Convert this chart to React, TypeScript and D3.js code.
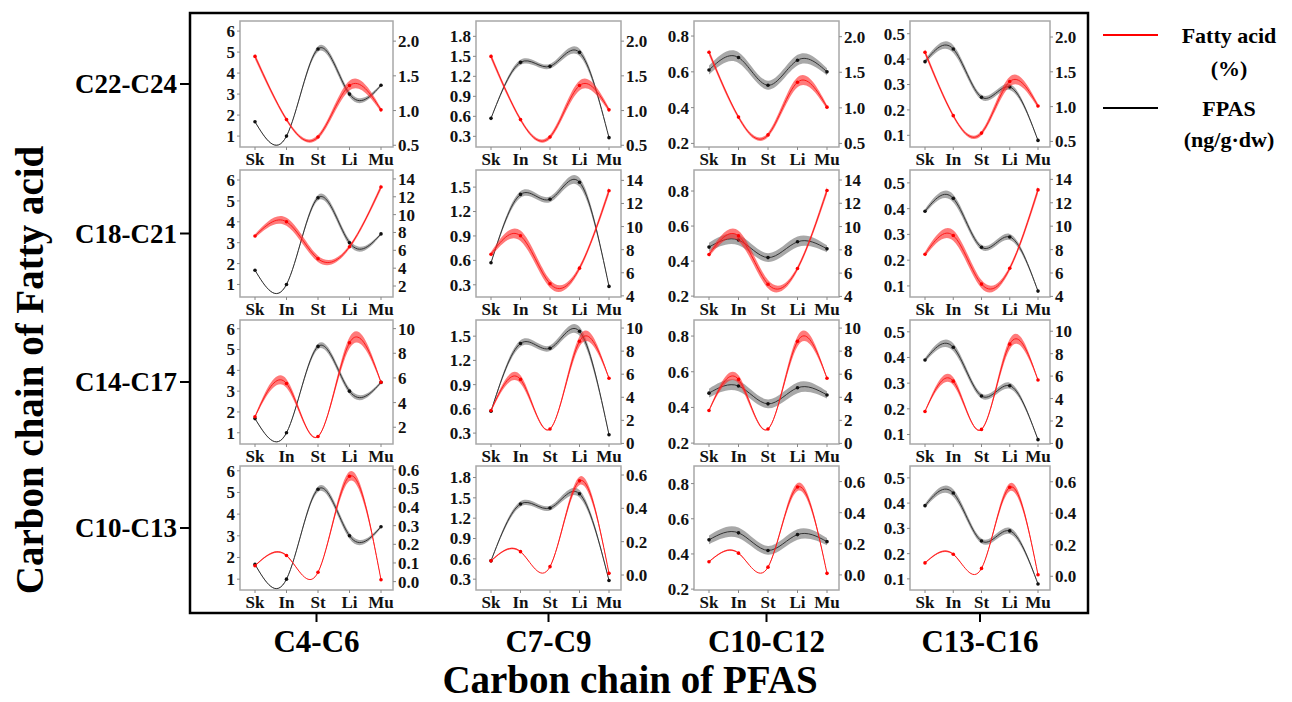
import React from "react";
import * as d3 from "d3";

// ---------- data ----------
const stations = ["Sk", "In", "St", "Li", "Mu"];
const pfasGroups = ["C4-C6", "C7-C9", "C10-C12", "C13-C16"];
const fattyGroups = ["C22-C24", "C18-C21", "C14-C17", "C10-C13"];

// FPAS (ng/g·dw), black, left axis — one series per PFAS column
const fpasC4C6 = [1.68, 1.0, 5.15, 3.0, 3.42];
const fpasC7C9 = [0.57, 1.41, 1.35, 1.56, 0.28];
const fpasC10C12 = [0.48, 0.52, 0.42, 0.51, 0.47];
const fpasC10C12Top = [0.61, 0.68, 0.525, 0.665, 0.6];
const fpasC13C16 = [0.39, 0.44, 0.25, 0.29, 0.08];
// confidence band half-widths (same units)
const fpasBandC4C6 = [0.03, 0.03, 0.13, 0.14, 0.06];
const fpasBandC7C9 = [0.01, 0.04, 0.035, 0.055, 0.01];
const fpasBandC10C12 = [0.025, 0.03, 0.025, 0.03, 0.02];
const fpasBandC13C16 = [0.008, 0.015, 0.01, 0.012, 0.003];

// Fatty acid (%), red, right axis — one series per fatty-acid row
const fattyC22C24 = [1.78, 0.87, 0.62, 1.36, 1.01];
const fattyC18C21 = [7.6, 9.2, 5.05, 6.4, 13.1];
const fattyC14C17 = [2.85, 5.55, 1.25, 8.85, 5.65];
const fattyC10C13 = [0.085, 0.14, 0.05, 0.565, 0.01];
const fattyBandC22C24 = [0.04, 0.025, 0.03, 0.07, 0.03];
const fattyBandC18C21 = [0.2, 0.45, 0.35, 0.2, 0.3];
const fattyBandC14C17 = [0.1, 0.35, 0.05, 0.45, 0.1];
const fattyBandC10C13 = [0.003, 0.004, 0.002, 0.025, 0.003];

// axis domains per panel [row][col]
const leftDomains = [
  [[0.48, 6.48], [0.14, 2.03], [0.18, 0.884], [0.054, 0.55]],
  [[0.4, 6.48], [0.15, 1.71], [0.195, 0.92], [0.057, 0.55]],
  [[0.46, 6.42], [0.165, 1.7], [0.195, 0.89], [0.063, 0.546]],
  [[0.5, 6.22], [0.14, 1.97], [0.195, 0.9], [0.056, 0.547]],
];
const rightDomains = [
  [[0.475, 2.29], [0.475, 2.29], [0.45, 2.22], [0.42, 2.23]],
  [[0.77, 15.0], [3.9, 14.9], [3.95, 14.86], [3.95, 14.8]],
  [[0.64, 10.7], [-0.05, 10.7], [-0.05, 10.7], [-0.05, 11.0]],
  [[-0.045, 0.62], [-0.09, 0.654], [-0.097, 0.7], [-0.087, 0.7]],
];

// tick labels
const leftTicksC4C6 = [1, 2, 3, 4, 5, 6];
const leftTicksC7C9 = [0.3, 0.6, 0.9, 1.2, 1.5, 1.8];
const leftTicksC10C12 = [0.2, 0.4, 0.6, 0.8];
const leftTicksC13C16 = [0.1, 0.2, 0.3, 0.4, 0.5];
const rightTicksC22C24 = [0.5, 1.0, 1.5, 2.0];
const rightTicksC18C21 = [2, 4, 6, 8, 10, 12, 14];
const rightTicksC14C17 = [0, 2, 4, 6, 8, 10];
const rightTicksC10C13Fine = [0, 0.1, 0.2, 0.3, 0.4, 0.5, 0.6];
const rightTicksC10C13 = [0, 0.2, 0.4, 0.6];
const leftFormats = ["d", ".1f", ".1f", ".1f"];
const rightFormats = [".1f", "d", "d", ".1f"];

const legendItems = [
  { label: ["Fatty acid", "(%)"], color: "#ff0000" },
  { label: ["FPAS", "(ng/g·dw)"], color: "#000000" },
];

// ---------- tables built from the arrays ----------
const fpasCols = [
  { v: fpasC4C6, w: fpasBandC4C6 },
  { v: fpasC7C9, w: fpasBandC7C9 },
  { v: fpasC10C12, w: fpasBandC10C12 },
  { v: fpasC13C16, w: fpasBandC13C16 },
];
const fpasFor = (r: number, c: number) =>
  r === 0 && c === 2 ? { v: fpasC10C12Top, w: fpasBandC10C12 } : fpasCols[c];
const fattyRows = [
  { v: fattyC22C24, w: fattyBandC22C24 },
  { v: fattyC18C21, w: fattyBandC18C21 },
  { v: fattyC14C17, w: fattyBandC14C17 },
  { v: fattyC10C13, w: fattyBandC10C13 },
];
const leftTickSets = [leftTicksC4C6, leftTicksC7C9, leftTicksC10C12, leftTicksC13C16];
const rightTickSet = (r: number, c: number) =>
  r === 0 ? rightTicksC22C24 : r === 1 ? rightTicksC18C21 : r === 2 ? rightTicksC14C17 : c === 0 ? rightTicksC10C13Fine : rightTicksC10C13;

// ---------- layout ----------
const W = 1292;
const H = 702;
const FONT = '"Liberation Serif", "Times New Roman", serif';
const colFrames = [[240, 393], [476, 621], [694, 839], [910, 1050]];
const rowFrames = [[21, 147], [170, 297], [320, 444], [466, 590]];
const box = { x: 190, y: 13, w: 898, h: 600 };
const TICK_FS = 17;

function Panel({ r, c }: { r: number; c: number }) {
  const [x0, x1] = colFrames[c];
  const [y0, y1] = rowFrames[r];
  const x = d3.scalePoint<string>().domain(stations).range([x0 + 15, x1 - 12]);
  const yL = d3.scaleLinear().domain(leftDomains[r][c]).range([y1, y0]);
  const yR = d3.scaleLinear().domain(rightDomains[r][c]).range([y1, y0]);
  const black = fpasFor(r, c);
  const red = fattyRows[r];

  const band = (s: d3.ScaleLinear<number, number>, v: number[], w: number[]) =>
    d3
      .area<number>()
      .x((_, i) => x(stations[i]) as number)
      .y0((d, i) => s(d - w[i]))
      .y1((d, i) => s(d + w[i]))
      .curve(d3.curveNatural)(v) as string;
  const line = (s: d3.ScaleLinear<number, number>, v: number[]) =>
    d3
      .line<number>()
      .x((_, i) => x(stations[i]) as number)
      .y((d) => s(d))
      .curve(d3.curveNatural)(v) as string;

  const lf = d3.format(leftFormats[c]);
  const rf = d3.format(rightFormats[r]);
  const inDom = (t: number, dom: number[]) => t >= dom[0] - 1e-9 && t <= dom[1] + 1e-9;
  const lt = leftTickSets[c].filter((t) => inDom(t, leftDomains[r][c]));
  const rt = rightTickSet(r, c).filter((t) => inDom(t, rightDomains[r][c]));

  return (
    <g>
      <rect x={x0} y={y0} width={x1 - x0} height={y1 - y0} fill="#fff" stroke="#a8a8a8" strokeWidth={1.5} />
      {/* FPAS */}
      <path d={band(yL, black.v, black.w)} fill="rgba(110,110,110,0.6)" stroke="none" />
      <path d={line(yL, black.v)} fill="none" stroke="#333" strokeWidth={1} />
      {black.v.map((d, i) => (
        <circle key={"b" + i} cx={x(stations[i])} cy={yL(d)} r={1.8} fill="#111" />
      ))}
      {/* Fatty acid */}
      <path d={band(yR, red.v, red.w)} fill="rgba(255,40,40,0.62)" stroke="none" />
      <path d={line(yR, red.v)} fill="none" stroke="#ff1a1a" strokeWidth={1} />
      {red.v.map((d, i) => (
        <circle key={"r" + i} cx={x(stations[i])} cy={yR(d)} r={1.8} fill="#ff0000" />
      ))}
      {/* left axis */}
      {lt.map((t) => (
        <g key={"l" + t}>
          <line x1={x0 - 3} x2={x0} y1={yL(t)} y2={yL(t)} stroke="#888" />
          <text x={x0 - 5} y={yL(t)} dy="0.35em" textAnchor="end" fontSize={TICK_FS} fontWeight="bold" fontFamily={FONT} fill="#111">
            {lf(t)}
          </text>
        </g>
      ))}
      {/* right axis */}
      {rt.map((t) => (
        <g key={"r" + t}>
          <line x1={x1} x2={x1 + 3} y1={yR(t)} y2={yR(t)} stroke="#888" />
          <text x={x1 + 5} y={yR(t)} dy="0.35em" textAnchor="start" fontSize={TICK_FS} fontWeight="bold" fontFamily={FONT} fill="#111">
            {rf(t)}
          </text>
        </g>
      ))}
      {/* x axis */}
      {stations.map((s) => (
        <g key={s}>
          <line x1={x(s)} x2={x(s)} y1={y1} y2={y1 + 3} stroke="#888" />
          <text x={x(s)} y={y1 + 18} textAnchor="middle" fontSize={TICK_FS} fontWeight="bold" fontFamily={FONT} fill="#111">
            {s}
          </text>
        </g>
      ))}
    </g>
  );
}

export default function App() {
  return (
    <svg width={W} height={H} style={{ position: "absolute", left: 0, top: 0, background: "#fff" }}>
      <rect x={0} y={0} width={W} height={H} fill="#fff" />
      <rect x={box.x} y={box.y} width={box.w} height={box.h} fill="none" stroke="#000" strokeWidth={2.5} />
      {fattyGroups.map((g, r) => {
        const cy = (rowFrames[r][0] + rowFrames[r][1]) / 2;
        return (
          <g key={g}>
            <line x1={box.x - 10} x2={box.x} y1={cy} y2={cy} stroke="#000" strokeWidth={2} />
            <text x={177} y={cy + 9} textAnchor="end" fontSize={27} fontWeight="bold" fontFamily={FONT} fill="#000">
              {g}
            </text>
          </g>
        );
      })}
      {pfasGroups.map((g, c) => {
        const cx = (colFrames[c][0] + colFrames[c][1]) / 2;
        return (
          <g key={g}>
            <line x1={cx} x2={cx} y1={box.y + box.h} y2={box.y + box.h + 9} stroke="#000" strokeWidth={2} />
            <text x={cx} y={652} textAnchor="middle" fontSize={31} fontWeight="bold" fontFamily={FONT} fill="#000">
              {g}
            </text>
          </g>
        );
      })}
      {fattyGroups.map((_, r) => pfasGroups.map((__, c) => <Panel key={r + "-" + c} r={r} c={c} />))}
      <text transform="translate(43,370) rotate(-90)" textAnchor="middle" fontSize={39} fontWeight="bold" fontFamily={FONT} fill="#000">
        Carbon chain of Fatty acid
      </text>
      <text x={630} y={693} textAnchor="middle" fontSize={39} fontWeight="bold" fontFamily={FONT} fill="#000">
        Carbon chain of PFAS
      </text>
      {/* legend */}
      {legendItems.map((it, i) => {
        const ly = i === 0 ? 35 : 108;
        return (
          <g key={it.label[0]}>
            <line x1={1103} x2={1158} y1={ly} y2={ly} stroke={it.color} strokeWidth={2} />
            <text x={1229} y={ly + 8} textAnchor="middle" fontSize={22} fontWeight="bold" fontFamily={FONT} fill="#000">
              {it.label[0]}
            </text>
            <text x={1229} y={ly + (i === 0 ? 41 : 39)} textAnchor="middle" fontSize={22} fontWeight="bold" fontFamily={FONT} fill="#000">
              {it.label[1]}
            </text>
          </g>
        );
      })}
    </svg>
  );
}
